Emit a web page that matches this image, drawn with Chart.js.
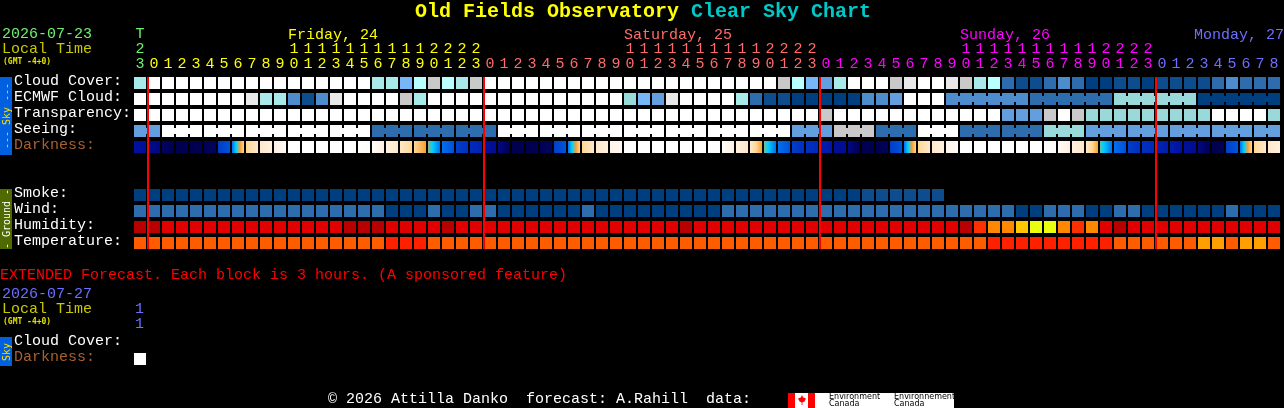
<!DOCTYPE html>
<html>
<head>
<meta charset="utf-8">
<title>Old Fields Observatory Clear Sky Chart</title>
<script src="https://cdn.jsdelivr.net/npm/chart.js@4/dist/chart.umd.min.js"></script>
<style>
  html, body { margin: 0; padding: 0; background: #000; overflow: hidden; }
  #page { position: relative; width: 1284px; height: 408px; background: #000; font: 15px "Liberation Mono", monospace; color: #fff; }
  #page div { position: absolute; white-space: pre; line-height: 16px; }
  canvas { position: absolute; left: 0; top: 0; }
  #page div.tiny { font: bold 8px/9px "DejaVu Sans Mono", monospace; color: #e0e000; }
  .band { left: 0; width: 12px; }
  .band span { position: absolute; left: 6px; top: 50%; transform: translate(-50%, -50%) rotate(-90deg); font: 10px "DejaVu Sans Mono", monospace; white-space: pre; }
</style>
</head>
<body>
<div id="page">
  <canvas id="chart" width="1284" height="408"></canvas>

  <div style="left:415px; top:2px; font:bold 20px/20px 'Liberation Mono', monospace; color:#ffff00">Old Fields Observatory <span style="color:#00c8c8">Clear Sky Chart</span></div>

  <div style="left:2px; top:27px; color:#70f070">2026-07-23</div>
  <div style="left:2px; top:42px; color:#c8c800">Local Time</div>
  <div class="tiny" style="left:3px; top:57px">(GMT -4+0)</div>

  <div class="band" style="top:77px; height:78px; background:#0060e0"><span style="color:#ffe000">--- Sky ---</span></div>
  <div class="band" style="top:189px; height:60px; background:#4f6a00"><span style="color:#fff">- Ground -</span></div>

  <div style="left:0; top:268px; color:#ff0000">EXTENDED Forecast. Each block is 3 hours. (A sponsored feature)</div>
  <div style="left:2px; top:287px; color:#6e6eff">2026-07-27</div>
  <div style="left:2px; top:302px; color:#c8c800">Local Time</div>
  <div class="tiny" style="left:3px; top:317px">(GMT -4+0)</div>
  <div style="left:135px; top:302px; color:#6e6eff">1</div>
  <div style="left:135px; top:317px; color:#6e6eff">1</div>
  <div class="band" style="top:337px; height:29px; background:#0060e0"><span style="color:#ffe000">Sky</span></div>

  <div style="left:328px; top:392px">© 2026 Attilla Danko  forecast: A.Rahill  data:</div>
  <div style="left:788px; top:393px; width:166px; height:15px; background:#fff"></div>
  <div style="left:788px; top:393px; width:7px; height:15px; background:#f00"></div>
  <div style="left:808px; top:393px; width:7px; height:15px; background:#f00"></div>
  <div style="left:798px; top:395px; width:8px; height:10px; background:#f00; clip-path:polygon(50% 0,65% 25%,100% 35%,80% 65%,55% 75%,55% 100%,45% 100%,45% 75%,20% 65%,0 35%,35% 25%)"></div>
  <div style="left:829px; top:393px; font:8px/7px 'DejaVu Sans', sans-serif; color:#000">Environment
Canada</div>
  <div style="left:894px; top:393px; font:8px/7px 'DejaVu Sans', sans-serif; color:#000">Environnement
Canada</div>
</div>

<script>
// hour of each block, first one is the T(oday) block
const hours = ['23','0','1','2','3','4','5','6','7','8','9','10','11','12','13','14','15','16','17','18','19','20','21','22','23',
  '0','1','2','3','4','5','6','7','8','9','10','11','12','13','14','15','16','17','18','19','20','21','22','23',
  '0','1','2','3','4','5','6','7','8','9','10','11','12','13','14','15','16','17','18','19','20','21','22','23',
  '0','1','2','3','4','5','6','7','8'];
const dayNames = ['Friday, 24', 'Saturday, 25', 'Sunday, 26', 'Monday, 27'];
const midnights = [1, 25, 49, 73];

const rowNames = ['Cloud Cover:', 'ECMWF Cloud:', 'Transparency:', 'Seeing:', 'Darkness:',
  'Smoke:', 'Wind:', 'Humidity:', 'Temperature:', 'Cloud Cover:', 'Darkness:'];

// sky rows, index into skyColors, 10 blocks a line
const cloudCover = [7,11,11,11,11,11,11,11,11,11,
  11,11,11,11,11,11,11,7,7,5,
  8,9,8,7,9,11,11,11,11,11,
  11,11,11,11,11,11,11,11,11,11,
  11,11,11,11,11,11,9,8,5,4,
  7,11,11,11,9,10,11,11,10,9,
  7,8,2,1,1,2,3,2,0,0,
  1,1,0,1,1,1,1,2,3,2,
  2,2];
const ecmwfCloud = [11,11,11,11,11,11,11,11,10,7,
  7,3,1,3,10,11,11,11,11,9,
  7,11,11,11,11,11,11,11,11,11,
  11,11,11,11,11,6,5,4,10,11,
  11,11,11,7,2,1,1,0,0,0,
  0,0,3,3,4,11,11,11,3,3,
  3,3,3,3,2,2,2,2,2,2,
  6,6,6,6,6,6,0,0,0,0,
  0,0];
const transparency = [11,11,11,11,11,11,11,11,11,11,
  11,11,11,11,11,11,11,11,11,11,
  11,11,11,11,11,11,11,11,11,11,
  11,11,11,11,11,11,11,11,11,11,
  11,11,11,11,11,11,11,11,11,9,
  11,11,11,11,11,11,11,11,11,11,
  11,11,4,4,4,9,11,9,6,6,
  6,6,6,6,6,6,6,11,11,11,
  11,6];
const seeing = [4,4,11,11,11,11,11,11,11,11,
  11,11,11,11,11,11,11,2,2,2,
  2,2,2,2,2,2,11,11,11,11,
  11,11,11,11,11,11,11,11,11,11,
  11,11,11,11,11,11,11,4,4,4,
  9,9,9,2,2,2,11,11,11,2,
  2,2,2,2,2,6,6,6,4,4,
  4,4,4,4,4,4,4,4,4,4,
  4,4];

// darkness at the left and right edge of each block, index into darkRamp
const darkStart = [9,9.6,10.6,11,11,10.9,7.6,6,3,2,
  1,0,0,0,0,0,0,0.2,1,2,
  3,4.4,6,7.6,8.2,9,9.9,11,11,10.9,
  7.5,6,3,2,0.8,0,0,0,0,0,
  0,0,0.1,1,2,4.5,6,7.6,8,8.6,
  9.2,9.9,11,11,7.6,6,3,2,0.8,0,
  0,0,0,0,0,0,0.2,1,2,4.6,
  6,7.6,8,8.4,8.6,9.1,9.9,11,7.5,6,
  3,2];
const darkEnd = [9.2,10,11,11,10.9,10.7,7,3,2,1,
  0.2,0,0,0,0,0,0.2,1,2,3,
  4,6,7,8,8.4,9.4,11,11,10.9,10.7,
  6.9,3,2,1,0.4,0,0,0,0,0,
  0,0.1,1,2,4,6,7,8,8.2,8.8,
  9.4,11,11,10.8,6.9,3,2,1,0.2,0,
  0,0,0,0,0,0.2,1,2,4,6,
  7,8,8.2,8.6,9,9.4,11,10.9,6.9,3,
  2,1];

// ground rows, null is no forecast
const smoke = [0,0,0,0,0,0,0,0,0,0,
  0,0,0,0,0,0,0,0,0,0,
  0,0,0,0,0,0,0,0,0,0,
  0,0,0,0,0,0,0,0,0,0,
  0,0,0,0,0,0,0,0,0,0,
  0,0,1,1,1,1,1,1,null,null,
  null,null,null,null,null,null,null,null,null,null,
  null,null,null,null,null,null,null,null,null,null,
  null,null];
const wind = [2,2,2,2,2,2,2,2,2,2,
  2,2,2,2,2,2,2,2,0,0,
  0,2,0,0,2,2,0,0,0,0,
  0,0,2,0,0,0,0,0,0,0,
  0,0,2,2,2,2,2,2,2,2,
  2,2,2,2,2,2,2,2,2,2,
  2,2,2,0,0,2,2,2,0,0,
  2,2,0,0,0,0,0,0,2,0,
  0,0];
const humidity = [0,0,1,1,1,1,1,1,1,1,
  1,1,1,1,1,0,0,0,1,1,
  1,1,0,1,1,1,1,1,1,1,
  1,1,1,1,1,1,1,1,1,0,
  1,1,1,1,1,1,1,1,1,1,
  1,1,1,1,1,1,1,1,1,0,
  2,3,3,4,5,5,3,2,3,1,
  0,1,1,1,1,1,1,1,1,1,
  1,1];
const temperature = [1,1,1,1,1,1,1,1,1,1,
  1,1,1,1,1,1,1,1,0,0,
  0,1,1,1,1,1,1,1,1,1,
  1,1,1,1,1,1,1,1,1,1,
  1,1,1,1,1,1,1,1,1,1,
  1,1,1,1,1,1,1,1,1,1,
  1,0,0,0,0,0,0,0,0,0,
  1,1,1,1,1,1,2,2,1,2,
  2,1];

// extended forecast, only one block
const extDarkness = [11];

const skyColors = ['#003f7f','#0d4d8e','#2d6dad','#4d8dcd','#639fdf','#77b7f7','#99d9d9','#a9e9e9','#b9ffff','#c9c9c9','#e9e9e9','#ffffff'];
const humidityColors = ['#b80000','#e00000','#ff3000','#ff8800','#ffc800','#e8ff10'];
const temperatureColors = ['#ff2000','#ff5c00','#ffa000'];
const darkRamp = ['#ffffff','#fff0e0','#ffe8c8','#ffd898','#f8a030','#00d0ff','#0070f0','#0050d8','#0030c0','#0010a0','#000880','#000050'];
const dayColors = ['#70f070','#ffff00','#ff6a6a','#ff00ff','#6e6eff'];

// row slots on the y scale, one slot is one row pitch
const rowSlots = [0, 1, 2, 3, 4, 7, 8, 9, 10, 16.25, 17.25];
const halfCell = 0.375;

function rowData(levels, slot) {
  return hours.map((h, i) => (levels[i] === undefined || levels[i] === null) ? null : [slot - halfCell, slot + halfCell]);
}

function hexToRgb(hex) {
  return [1, 3, 5].map(p => parseInt(hex.slice(p, p + 2), 16));
}

function rampColor(v) {
  const lo = Math.min(Math.floor(v), darkRamp.length - 1);
  const hi = Math.min(lo + 1, darkRamp.length - 1);
  const a = hexToRgb(darkRamp[lo]), b = hexToRgb(darkRamp[hi]);
  const t = v - lo;
  return 'rgb(' + a.map((c, i) => Math.round(c + (b[i] - c) * t)).join(',') + ')';
}

function darknessFill(ctx) {
  const chart = ctx.chart;
  if (!chart.chartArea || ctx.dataIndex === undefined) return '#000';
  const x = chart.scales.x.getPixelForValue(ctx.dataIndex);
  const grad = chart.ctx.createLinearGradient(x - 6, 0, x + 6, 0);
  const a = darkStart[ctx.dataIndex], b = darkEnd[ctx.dataIndex];
  for (let s = 0; s <= 12; s++) grad.addColorStop(s / 12, rampColor(a + (b - a) * s / 12));
  return grad;
}

function makeRow(label, levels, slot, colors) {
  return {
    label: label,
    data: rowData(levels, slot),
    backgroundColor: colors,
    grouped: false,
    barThickness: 12,
    borderWidth: 0,
    inflateAmount: 0
  };
}

const pick = (levels, palette) => levels.map(v => v === null ? '#000' : palette[v]);

// seeing is in 3 hour groups, the later ECMWF blocks in 6 hour groups, joined with a narrow link
const linkedRows = [
  { levels: seeing, slot: rowSlots[3], from: 0, groupStart: 2, groupSize: 3 },
  { levels: ecmwfCloud, slot: rowSlots[1], from: 58, groupStart: 58, groupSize: 6 }
];
const linkHalf = 0.1875;

const overlays = {
  id: 'overlays',
  afterDatasetsDraw(chart) {
    const { ctx, scales: { x, y } } = chart;
    ctx.save();
    linkedRows.forEach(r => {
      const top = y.getPixelForValue(r.slot - linkHalf);
      const bottom = y.getPixelForValue(r.slot + linkHalf);
      for (let i = r.from; i < hours.length - 1; i++) {
        if ((i + 1 - r.groupStart) % r.groupSize === 0) continue;
        ctx.fillStyle = skyColors[r.levels[i]];
        ctx.fillRect(x.getPixelForValue(i) + 6, top, 2, bottom - top);
      }
    });
    // midnight markers
    ctx.fillStyle = '#ff0000';
    const top = y.getPixelForValue(rowSlots[0] - halfCell);
    const bottom = y.getPixelForValue(rowSlots[8] + halfCell);
    midnights.forEach(c => ctx.fillRect(x.getPixelForValue(c) - 7, top, 2, bottom - top));
    // day names above the hours
    ctx.font = '15px "Liberation Mono", monospace';
    ctx.textBaseline = 'middle';
    dayNames.forEach((name, i) => {
      ctx.fillStyle = dayColors[i + 1];
      if (i < 3) {
        ctx.textAlign = 'left';
        ctx.fillText(name, x.getPixelForValue(midnights[i] + 10) - 6, 35);
      } else {
        ctx.textAlign = 'right';
        ctx.fillText(name, chart.width, 35);
      }
    });
    ctx.restore();
  }
};

function hourColor(i) {
  if (i === 0) return dayColors[0];
  let d = 0;
  midnights.forEach((c, n) => { if (i >= c) d = n + 1; });
  return dayColors[d];
}

new Chart(document.getElementById('chart'), {
  type: 'bar',
  data: {
    labels: hours,
    datasets: [
      makeRow(rowNames[0], cloudCover, rowSlots[0], pick(cloudCover, skyColors)),
      makeRow(rowNames[1], ecmwfCloud, rowSlots[1], pick(ecmwfCloud, skyColors)),
      makeRow(rowNames[2], transparency, rowSlots[2], pick(transparency, skyColors)),
      makeRow(rowNames[3], seeing, rowSlots[3], pick(seeing, skyColors)),
      makeRow(rowNames[4], darkStart, rowSlots[4], darknessFill),
      makeRow(rowNames[5], smoke, rowSlots[5], pick(smoke, skyColors)),
      makeRow(rowNames[6], wind, rowSlots[6], pick(wind, skyColors)),
      makeRow(rowNames[7], humidity, rowSlots[7], pick(humidity, humidityColors)),
      makeRow(rowNames[8], temperature, rowSlots[8], pick(temperature, temperatureColors)),
      makeRow(rowNames[10], extDarkness, rowSlots[10], pick(extDarkness, skyColors))
    ]
  },
  options: {
    responsive: false,
    animation: false,
    devicePixelRatio: 1,
    events: [],
    layout: { padding: { left: 14, right: 3, top: 0, bottom: 0 } },
    plugins: { legend: { display: false }, tooltip: { enabled: false } },
    scales: {
      x: {
        position: 'top',
        grid: { display: false, drawTicks: false },
        border: { display: false },
        afterFit(scale) {
          scale.height = 72;
          scale.paddingLeft = 0;
          scale.paddingRight = 0;
        },
        ticks: {
          autoSkip: false,
          maxRotation: 0,
          minRotation: 0,
          padding: 0,
          font: { family: '"Liberation Mono", monospace', size: 15, lineHeight: '15px' },
          color: ctx => hourColor(ctx.index),
          callback(value, i) {
            const h = hours[i];
            if (i === 0) return ['T', h[0], h[1]];
            return h.length > 1 ? [h[0], h[1]] : [h];
          }
        }
      },
      y: {
        reverse: true,
        min: -0.6875,
        max: 20.3125,
        grid: { display: false, drawTicks: false },
        border: { display: false },
        afterBuildTicks(scale) { scale.ticks = rowSlots.map(v => ({ value: v })); },
        afterFit(scale) {
          scale.width = 119;
          scale.paddingTop = 0;
          scale.paddingBottom = 0;
        },
        ticks: {
          autoSkip: false,
          crossAlign: 'far',
          padding: 0,
          labelOffset: -2,
          font: { family: '"Liberation Mono", monospace', size: 15 },
          color: ctx => rowNames[ctx.index] === 'Darkness:' ? '#a8602f' : '#ffffff',
          callback(value, i) { return rowNames[i]; }
        }
      }
    }
  },
  plugins: [overlays]
});
</script>
</body>
</html>
